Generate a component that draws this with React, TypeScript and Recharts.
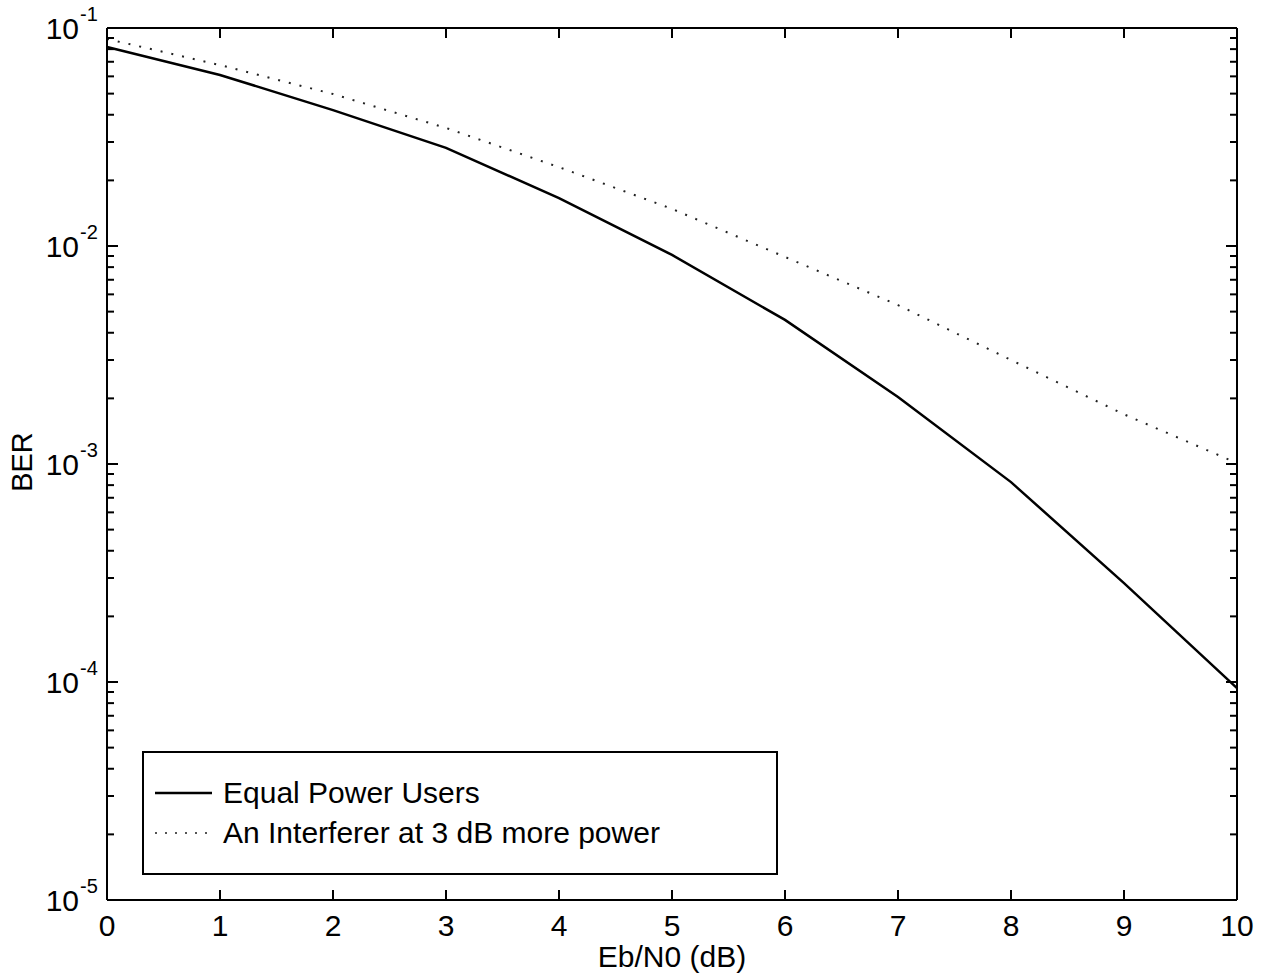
import { Line, LineChart, XAxis, YAxis } from "recharts";

// Eb/N0 in dB
const ebN0 = [0, 1, 2, 3, 4, 5, 6, 7, 8, 9, 10];
// BER, all users at equal power
const equalPower = [
	0.0818, 0.0609, 0.042, 0.0282, 0.0166, 0.0091, 0.00458, 0.00203, 0.000826,
	0.000284, 0.0000937,
];
// BER, one interferer 3 dB stronger
const interferer = [
	0.0891, 0.0676, 0.0498, 0.0348, 0.023, 0.0148, 0.00891, 0.00536, 0.003,
	0.00169, 0.00101,
];

const xTicks = [0, 1, 2, 3, 4, 5, 6, 7, 8, 9, 10];
const decades = [1e-5, 1e-4, 1e-3, 1e-2, 1e-1];
const decadeExp = ["-5", "-4", "-3", "-2", "-1"];
const minorSteps = [1, 2, 3, 4, 5, 6, 7, 8, 9];

const yTicks = decades
	.slice(0, 4)
	.flatMap((d) => minorSteps.map((m) => m * d))
	.concat([1e-1]);

const data = ebN0.map((x, i) => ({
	x,
	equal: equalPower[i],
	inter: interferer[i],
}));

const FONT = '"Liberation Sans", Arial, Helvetica, sans-serif';

function isMajor(v: number) {
	const l = Math.log10(v);
	return Math.abs(l - Math.round(l)) < 1e-6;
}

function LeftTick(props: any) {
	const { x, y, payload } = props;
	const v = payload.value;
	if (!isMajor(v)) {
		return <line x1={x} x2={x + 7} y1={y} y2={y} stroke="#000" strokeWidth={2} />;
	}
	const idx = decades.findIndex((d) => Math.abs(Math.log10(d) - Math.log10(v)) < 1e-6);
	return (
		<g>
			<line x1={x} x2={x + 11} y1={y} y2={y} stroke="#000" strokeWidth={2} />
			<text x={x - 28} y={y + 11} textAnchor="end" fontSize={30} fontFamily={FONT} fill="#000">
				10
			</text>
			<text x={x - 27} y={y - 7} textAnchor="start" fontSize={20} fontFamily={FONT} fill="#000">
				{decadeExp[idx]}
			</text>
		</g>
	);
}

function RightTick(props: any) {
	const { x, y, payload } = props;
	const len = isMajor(payload.value) ? 11 : 7;
	return <line x1={x} x2={x - len} y1={y} y2={y} stroke="#000" strokeWidth={2} />;
}

function BottomTick(props: any) {
	const { x, y, payload } = props;
	return (
		<g>
			<line x1={x} x2={x} y1={y} y2={y - 10} stroke="#000" strokeWidth={2} />
			<text x={x} y={y + 36} textAnchor="middle" fontSize={30} fontFamily={FONT} fill="#000">
				{payload.value}
			</text>
		</g>
	);
}

function TopTick(props: any) {
	const { x, y } = props;
	return <line x1={x} x2={x} y1={y} y2={y + 10} stroke="#000" strokeWidth={2} />;
}

export default function App() {
	return (
		<div
			style={{
				position: "absolute",
				left: 0,
				top: 0,
				width: 1271,
				height: 979,
				background: "#fff",
				fontFamily: FONT,
			}}
		>
			<LineChart
				width={1271}
				height={979}
				data={data}
				margin={{ top: 0, right: 0, bottom: 0, left: 0 }}
			>
				<XAxis
					dataKey="x"
					type="number"
					domain={[0, 10]}
					ticks={xTicks}
					interval={0}
					tickSize={0}
					tickMargin={0}
					tickLine={false}
					tick={<BottomTick />}
					axisLine={{ stroke: "#000", strokeWidth: 2 }}
					height={79}
					label={{
						content: (p: any) => {
							const vb = p.viewBox;
							return (
								<text
									x={vb.x + vb.width / 2}
									y={vb.y + 67}
									textAnchor="middle"
									fontSize={30}
									fontFamily={FONT}
									fill="#000"
								>
									Eb/N0 (dB)
								</text>
							);
						},
					}}
				/>
				<XAxis
					xAxisId="top"
					orientation="top"
					dataKey="x"
					type="number"
					domain={[0, 10]}
					ticks={xTicks}
					interval={0}
					tickSize={0}
					tickMargin={0}
					tickLine={false}
					tick={<TopTick />}
					axisLine={{ stroke: "#000", strokeWidth: 2 }}
					height={28}
				/>
				<YAxis
					type="number"
					scale="log"
					domain={[1e-5, 1e-1]}
					allowDataOverflow
					ticks={yTicks}
					interval={0}
					tickSize={0}
					tickMargin={0}
					tickLine={false}
					tick={<LeftTick />}
					axisLine={{ stroke: "#000", strokeWidth: 2 }}
					width={107}
					label={{
						content: (p: any) => {
							const vb = p.viewBox;
							const cx = vb.x + 22;
							const cy = vb.y + vb.height / 2 - 2;
							return (
								<text
									x={cx}
									y={cy}
									transform={`rotate(-90 ${cx} ${cy})`}
									textAnchor="middle"
									dominantBaseline="central"
									fontSize={29}
									fontFamily={FONT}
									fill="#000"
								>
									BER
								</text>
							);
						},
					}}
				/>
				<YAxis
					yAxisId="right"
					orientation="right"
					type="number"
					scale="log"
					domain={[1e-5, 1e-1]}
					allowDataOverflow
					ticks={yTicks}
					interval={0}
					tickSize={0}
					tickMargin={0}
					tickLine={false}
					tick={<RightTick />}
					axisLine={{ stroke: "#000", strokeWidth: 2 }}
					width={34}
				/>
				<Line
					type="linear"
					dataKey="equal"
					stroke="#000"
					strokeWidth={2.5}
					dot={false}
					isAnimationActive={false}
				/>
				<Line
					type="linear"
					dataKey="inter"
					stroke="#222"
					strokeWidth={2}
					strokeDasharray="2 9"
					dot={false}
					isAnimationActive={false}
				/>
			</LineChart>
			<div
				style={{
					position: "absolute",
					left: 142,
					top: 751,
					width: 632,
					height: 120,
					border: "2px solid #000",
					background: "#fff",
					fontSize: 30,
					color: "#000",
				}}
			>
				<svg width={70} height={120} style={{ position: "absolute", left: 0, top: 0 }}>
					<line x1={11} x2={68} y1={40} y2={40} stroke="#000" strokeWidth={2.5} />
					<line x1={11} x2={68} y1={80} y2={80} stroke="#555" strokeWidth={2} strokeDasharray="2 8" />
				</svg>
				<div style={{ position: "absolute", left: 79, top: 23, lineHeight: "34px", whiteSpace: "nowrap" }}>
					Equal Power Users
				</div>
				<div style={{ position: "absolute", left: 79, top: 63, lineHeight: "34px", whiteSpace: "nowrap" }}>
					An Interferer at 3 dB more power
				</div>
			</div>
		</div>
	);
}
